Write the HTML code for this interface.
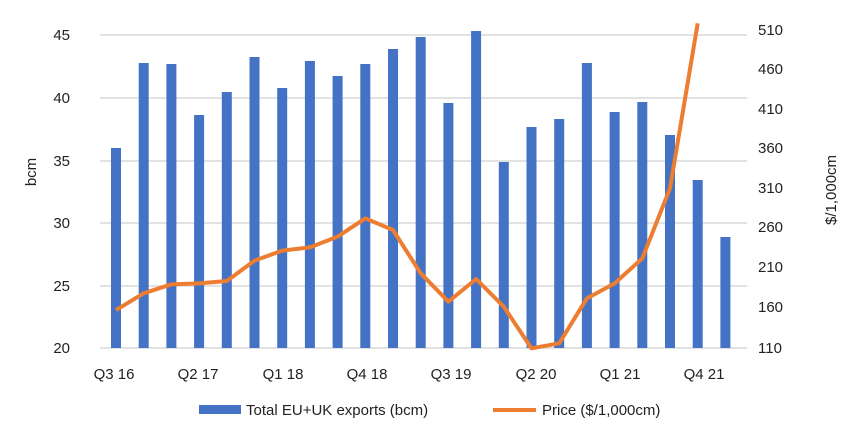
<!DOCTYPE html><html><head><style>body{margin:0;background:#fff}svg{display:block}text{font-family:"Liberation Sans",sans-serif;fill:#222;font-size:15px}</style></head><body>
<svg width="858" height="443" viewBox="0 0 858 443">
<g stroke="#d9d9d9" stroke-width="1.5">
<line x1="100" x2="747" y1="35" y2="35"/><line x1="100" x2="747" y1="98" y2="98"/><line x1="100" x2="747" y1="161" y2="161"/><line x1="100" x2="747" y1="223" y2="223"/><line x1="100" x2="747" y1="286" y2="286"/><line x1="100" x2="747" y1="348" y2="348"/></g>
<g fill="#4472c4" id="bars"></g>
<polyline id="ln" fill="none" stroke="#ed7d31" stroke-width="4" stroke-linejoin="round"/>
<g text-anchor="end"><text x="70" y="40">45</text><text x="70" y="103">40</text><text x="70" y="166">35</text><text x="70" y="228">30</text><text x="70" y="291">25</text><text x="70" y="353">20</text></g>
<g text-anchor="start"><text x="758" y="35">510</text><text x="758" y="74">460</text><text x="758" y="114">410</text><text x="758" y="153">360</text><text x="758" y="193">310</text><text x="758" y="232">260</text><text x="758" y="272">210</text><text x="758" y="312">160</text><text x="758" y="353">110</text></g>
<g text-anchor="middle"><text x="114" y="379">Q3 16</text><text x="198" y="379">Q2 17</text><text x="283" y="379">Q1 18</text><text x="367" y="379">Q4 18</text><text x="451" y="379">Q3 19</text><text x="536" y="379">Q2 20</text><text x="620" y="379">Q1 21</text><text x="704" y="379">Q4 21</text></g>
<text transform="translate(36,172) rotate(-90)" text-anchor="middle">bcm</text>
<text transform="translate(836,190) rotate(-90)" text-anchor="middle">$/1,000cm</text>
<rect x="199" y="405" width="42" height="9" fill="#4472c4"/><text x="246" y="415">Total EU+UK exports (bcm)</text>
<line x1="493" x2="536" y1="410" y2="410" stroke="#ed7d31" stroke-width="4"/><text x="542" y="415">Price ($/1,000cm)</text>
</svg>
<script>
var tops=[384,129,132,285,216,111,204,123,168,132,87,51,249,33,426,321,297,129,276,246,345,480,651];
var lz=[870,820,793,790,783,722,692,682,650,595,630,760,845,777,860,985,970,835,790,715,505,10];
var g=document.getElementById('bars'),s='',p=[];
for(var i=0;i<23;i++){var cx=116+i*27.7,t=tops[i]/3+20;s+='<rect x="'+(cx-5)+'" y="'+t+'" width="10" height="'+(348-t)+'"/>';}
g.innerHTML=s;
for(var i=0;i<22;i++){p.push((116+i*27.7)+','+(lz[i]/3+20));}
document.getElementById('ln').setAttribute('points',p.join(' '));
</script>
</body></html>
